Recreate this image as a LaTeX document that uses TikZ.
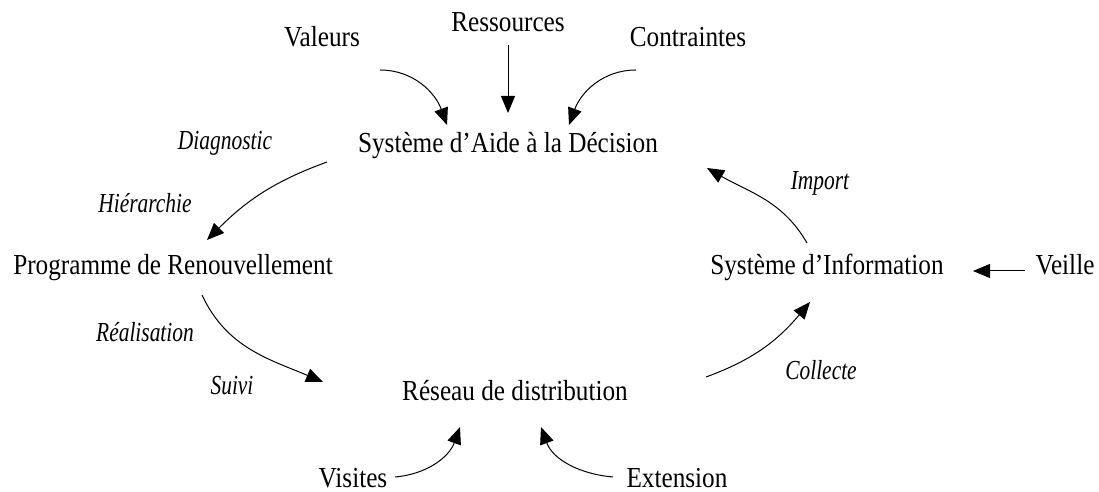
\documentclass[tikz,border=0pt]{standalone}
\usepackage{fontspec}
\setmainfont{Liberation Serif}[FakeStretch=0.87]
\newfontfamily\verbfont{Liberation Serif}[FakeStretch=0.78]
\usetikzlibrary{arrows.meta}
\tikzset{
  item/.style={inner sep=0pt,anchor=base,font=\fontsize{29}{31}\selectfont},
  verb/.style={inner sep=0pt,anchor=base,font=\verbfont\itshape\fontsize{27.5}{29}\selectfont},
  flow/.style={-{Triangle[length=17pt,width=14pt]},line width=1pt},
}

\begin{document}
\begin{tikzpicture}[x=1pt,y=1pt]
  \useasboundingbox (0,0) rectangle (1099,492);
  % inputs on top
  \node[item] (val) at (322,445) {Valeurs};
  \node[item] (res) at (508,460) {Ressources};
  \node[item] (con) at (688,445) {Contraintes};
  % the four stages of the cycle
  \node[item] (sad) at (508,339) {Système d’Aide à la Décision};
  \node[item] (prog) at (173,217) {Programme de Renouvellement};
  \node[item] (si) at (827,217) {Système d’Information};
  \node[item] (reseau) at (515,91) {Réseau de distribution};
  % side inputs
  \node[item] (veille) at (1065,217) {Veille};
  \node[item] (vis) at (353,5) {Visites};
  \node[item] (ext) at (677,5) {Extension};
  % labels of the cycle
  \node[verb] (diag) at (225,342) {Diagnostic};
  \node[verb] (hier) at (145,279) {Hiérarchie};
  \node[verb] (real) at (145,150) {Réalisation};
  \node[verb] (suivi) at (232,97) {Suivi};
  \node[verb] (coll) at (821,112) {Collecte};
  \node[verb] (imp) at (820,302) {Import};
  % arrows into the decision system
  \draw[flow] ([shift={(58,-23)}]val.base) to[out=0,in=110] ([shift={(-61,28)}]sad.base);
  \draw[flow] ([shift={(0,-13)}]res.base) -- ([shift={(0,40)}]sad.base);
  \draw[flow] ([shift={(-52,-23)}]con.base) to[out=180,in=70] ([shift={(61,28)}]sad.base);
  % cycle
  \draw[flow] ([shift={(-181,-9)}]sad.base) to[out=200,in=45] ([shift={(34,35)}]prog.base);
  \draw[flow] ([shift={(29,-20)}]prog.base) to[out=-65,in=157] ([shift={(-192,19)}]reseau.base);
  \draw[flow] ([shift={(191,24)}]reseau.base) to[out=20,in=-130] ([shift={(-17,-27)}]si.base);
  \draw[flow] ([shift={(-20,32)}]si.base) to[out=120,in=-30] ([shift={(199,-15)}]sad.base);
  % side arrows
  \draw[flow] ([shift={(-40,4)}]veille.base) -- ([shift={(146,4)}]si.base);
  \draw[flow] ([shift={(42,10)}]vis.base) to[out=5,in=-110] ([shift={(-55,-26)}]reseau.base);
  \draw[flow] ([shift={(-64,10)}]ext.base) to[out=175,in=-70] ([shift={(26,-26)}]reseau.base);
\end{tikzpicture}
\end{document}
